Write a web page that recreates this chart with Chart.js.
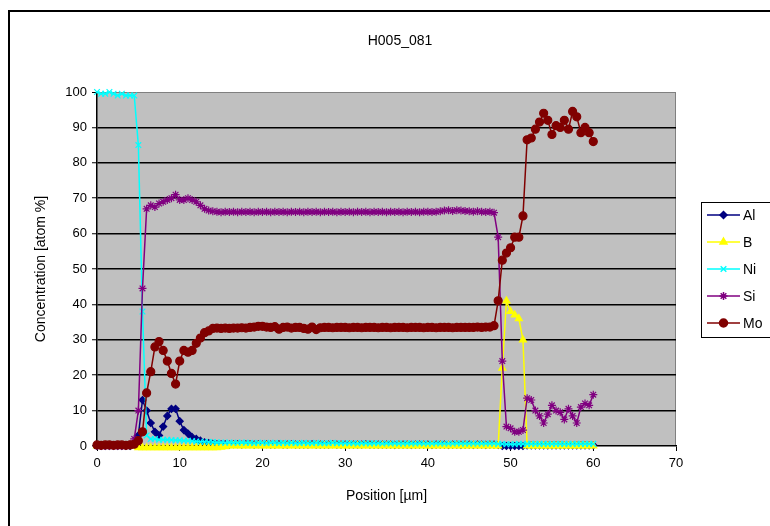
<!DOCTYPE html>
<html>
<head>
<meta charset="utf-8">
<title>H005_081</title>
<script src="https://cdn.jsdelivr.net/npm/chart.js@4.4.1/dist/chart.umd.min.js"></script>
<style>
  html, body { margin: 0; padding: 0; background: #fff; }
  canvas { display: block; }
</style>
</head>
<body>
<canvas id="profile" width="770" height="526"></canvas>
<script>
// line scan positions [µm]
const positions = [
  0, 0.5, 1, 1.5, 2, 2.5, 3, 3.5, 4, 4.5,
  5, 5.5, 6, 6.5, 7, 7.5, 8, 8.5, 9, 9.5,
  10, 10.5, 11, 11.5, 12, 12.5, 13, 13.5, 14, 14.5,
  15, 15.5, 16, 16.5, 17, 17.5, 18, 18.5, 19, 19.5,
  20, 20.5, 21, 21.5, 22, 22.5, 23, 23.5, 24, 24.5,
  25, 25.5, 26, 26.5, 27, 27.5, 28, 28.5, 29, 29.5,
  30, 30.5, 31, 31.5, 32, 32.5, 33, 33.5, 34, 34.5,
  35, 35.5, 36, 36.5, 37, 37.5, 38, 38.5, 39, 39.5,
  40, 40.5, 41, 41.5, 42, 42.5, 43, 43.5, 44, 44.5,
  45, 45.5, 46, 46.5, 47, 47.5, 48, 48.5, 49, 49.5,
  50, 50.5, 51, 51.5, 52, 52.5, 53, 53.5, 54, 54.5,
  55, 55.5, 56, 56.5, 57, 57.5, 58, 58.5, 59, 59.5,
  60
];

const al = [
  0, 0, 0, 0, 0, 0, 0, 0, 0, 0.5,
  3, 13, 10, 6.5, 4, 3, 5.5, 8.5, 10.5, 10.5,
  7, 4.5, 3.5, 2.5, 2, 1.5, 1, 0.8, 0.6, 0.5,
  0.5, 0.5, 0.4, 0.5, 0.5, 0.4, 0.5, 0.5, 0.4, 0.5,
  0.4, 0.5, 0.4, 0.4, 0.5, 0.4, 0.4, 0.5, 0.4, 0.4,
  0.4, 0.4, 0.5, 0.4, 0.4, 0.4, 0.4, 0.5, 0.4, 0.4,
  0.4, 0.4, 0.4, 0.4, 0.4, 0.5, 0.4, 0.4, 0.4, 0.4,
  0.4, 0.4, 0.3, 0.4, 0.4, 0.4, 0.3, 0.4, 0.4, 0.4,
  0.4, 0.3, 0.4, 0.4, 0.4, 0.3, 0.4, 0.4, 0.3, 0.4,
  0.4, 0.3, 0.4, 0.4, 0.3, 0.4, 0.4, 0.3, 0, 0,
  0, 0, 0, 0, 0.2, 0.2, 0.2, 0.2, 0.2, 0.2,
  0.2, 0.2, 0.2, 0.2, 0.2, 0.2, 0.2, 0.2, 0.2, 0.2,
  0.2
];

const b = [
  0, 0, 0, 0, 0, 0, 0, 0, 0, 0,
  -0.5, -0.5, -0.5, -0.5, -0.5, -0.5, -0.5, -0.5, -0.5, -0.5,
  -0.5, -0.5, -0.5, -0.5, -0.5, -0.5, -0.5, -0.5, -0.5, -0.5,
  -0.3, -0.2, 0, 0.1, 0, 0.1, 0, 0.1, 0, 0.1,
  0, 0.1, 0, 0.1, 0, 0.1, 0, 0.1, 0, 0.1,
  0, 0.1, 0, 0.1, 0, 0.1, 0, 0.1, 0, 0.1,
  0, 0.1, 0, 0.1, 0, 0.1, 0, 0.1, 0, 0.1,
  0, 0.1, 0, 0.1, 0, 0.1, 0, 0.1, 0, 0.1,
  0, 0.1, 0, 0.1, 0, 0.1, 0, 0.1, 0, 0.1,
  0, 0.1, 0, 0.1, 0, 0.1, 0, 0, 22, 41,
  38, 37, 36, 30, 0, 0, 0, 0, 0, 0,
  0, 0, 0, 0, 0, 0, 0, 0, 0, 0,
  0
];

const ni = [
  100, 99.5, 99.5, 100, 99.5, 99, 99.5, 99, 99, 99,
  85, 38, 3, 2, 2, 1.8, 1.8, 1.8, 1.7, 1.6,
  1.6, 1.5, 1.5, 1.4, 1.3, 1.2, 1.2, 1.1, 1.1, 1,
  1, 0.9, 1, 0.9, 0.9, 1, 0.9, 0.9, 0.8, 0.9,
  0.9, 0.8, 0.9, 0.9, 0.8, 0.9, 0.8, 0.9, 0.8, 0.8,
  0.9, 0.8, 0.8, 0.9, 0.8, 0.8, 0.8, 0.9, 0.8, 0.8,
  0.8, 0.8, 0.8, 0.7, 0.8, 0.8, 0.7, 0.8, 0.8, 0.7,
  0.8, 0.7, 0.8, 0.7, 0.7, 0.8, 0.7, 0.7, 0.8, 0.7,
  0.7, 0.7, 0.8, 0.7, 0.7, 0.7, 0.7, 0.8, 0.7, 0.7,
  0.7, 0.7, 0.7, 0.7, 0.7, 0.7, 0.7, 0.6, 0.6, 0.5,
  0.5, 0.5, 0.6, 0.6, 0.6, 0.6, 0.6, 0.6, 0.6, 0.6,
  0.6, 0.6, 0.6, 0.6, 0.6, 0.6, 0.6, 0.6, 0.6, 0.6,
  0.6
];

const si = [
  0, 0, 0, 0, 0, 0, 0, 0, 0.5, 2,
  10, 44.5, 67, 68, 67.5, 68.5, 69, 69.5, 70, 71,
  69.5, 69.5, 70, 69.5, 69, 68, 67, 66.5, 66.3, 66.2,
  66, 66.2, 66.1, 66.2, 66, 66.2, 66.1, 66.2, 66, 66.2,
  66.1, 66.2, 66, 66.2, 66.1, 66.2, 66, 66.2, 66.1, 66.2,
  66, 66.2, 66.1, 66.2, 66, 66.2, 66.1, 66.2, 66, 66.2,
  66.1, 66.2, 66, 66.2, 66.1, 66.2, 66, 66.2, 66.1, 66.2,
  66, 66.2, 66.1, 66.2, 66, 66.2, 66.1, 66.2, 66, 66.2,
  66.2, 66.1, 66.2, 66.3, 66.5, 66.6, 66.4, 66.6, 66.5, 66.4,
  66.3, 66.2, 66.3, 66.2, 66.1, 66.2, 65.9, 59, 24, 5.5,
  5, 4, 4, 4.5, 13.5, 13, 10, 8.5, 6.5, 9,
  11.5, 10, 9.5, 7.5, 10.5, 8.5, 6.5, 11, 12, 11.5,
  14.5
];

const mo = [
  0.3, 0.2, 0.3, 0.3, 0.2, 0.3, 0.3, 0.2, 0.3, 0.5,
  1.5, 4, 15, 21, 28, 29.5, 27, 24, 20.5, 17.5,
  24, 27, 26.5, 27, 29, 30.5, 32, 32.5, 33.2, 33.3,
  33.2, 33.3, 33.2, 33.3, 33.3, 33.4, 33.3, 33.5, 33.6, 33.8,
  33.8, 33.6, 33.5, 33.7, 33, 33.5, 33.6, 33.3, 33.5, 33.5,
  33.2, 33, 33.6, 32.9, 33.4, 33.5, 33.5, 33.4, 33.5, 33.5,
  33.5, 33.4, 33.5, 33.5, 33.4, 33.5, 33.5, 33.5, 33.4, 33.5,
  33.5, 33.4, 33.5, 33.5, 33.5, 33.4, 33.5, 33.5, 33.5, 33.4,
  33.5, 33.5, 33.4, 33.5, 33.5, 33.5, 33.4, 33.5, 33.5, 33.5,
  33.5, 33.5, 33.6, 33.5, 33.6, 33.6, 34, 41, 52.5, 54.5,
  56, 59, 59, 65, 86.5, 87, 89.5, 91.5, 94, 92,
  88, 90.5, 90, 92, 89.5, 94.5, 93, 88.5, 90, 88.5,
  86
];

const xTicks = [0, 10, 20, 30, 40, 50, 60, 70];
const yTicks = [0, 10, 20, 30, 40, 50, 60, 70, 80, 90, 100];

const fontFamily = "'Liberation Sans', Arial, sans-serif";
const tickFont = {family: fontFamily, size: 13};
const labelFont = {family: fontFamily, size: 14};

const series = [
  {label: "Al", values: al, color: "#000080", style: "rectRot", radius: 3.5, order: 5},
  {label: "B", values: b, color: "#ffff00", style: "triangle", radius: 4, order: 4},
  {label: "Ni", values: ni, color: "#00ffff", style: "crossRot", radius: 4, order: 3},
  {label: "Si", values: si, color: "#800080", style: "star", radius: 4, order: 2},
  {label: "Mo", values: mo, color: "#800000", style: "circle", radius: 4, order: 1}
];

// white page, outer chart frame, grey plot area and the title
const frame = {
  id: "frame",
  beforeDraw(chart) {
    const {ctx, chartArea: a} = chart;
    ctx.save();
    ctx.fillStyle = "#fff";
    ctx.fillRect(0, 0, chart.width, chart.height);
    ctx.strokeStyle = "#000";
    ctx.lineWidth = 2;
    ctx.strokeRect(9, 11, 820, 600);
    ctx.fillStyle = "#c0c0c0";
    ctx.fillRect(a.left, a.top, a.right - a.left, a.bottom - a.top);
    ctx.strokeStyle = "#808080";
    ctx.lineWidth = 1;
    ctx.beginPath();
    ctx.moveTo(a.left, a.top + 0.5);
    ctx.lineTo(a.right - 0.5, a.top + 0.5);
    ctx.lineTo(a.right - 0.5, a.bottom);
    ctx.stroke();
    ctx.fillStyle = "#000";
    ctx.font = "14px " + fontFamily;
    ctx.textAlign = "center";
    ctx.textBaseline = "middle";
    ctx.fillText("H005_081", 400, 41);
    ctx.restore();
  }
};

const legendBox = {
  id: "legendBox",
  afterDraw(chart) {
    const ctx = chart.ctx;
    ctx.save();
    ctx.fillStyle = "#fff";
    ctx.fillRect(701, 202, 90, 135);
    ctx.strokeStyle = "#000";
    ctx.lineWidth = 1;
    ctx.strokeRect(701.5, 202.5, 90, 135);
    ctx.font = "14px " + fontFamily;
    ctx.textBaseline = "middle";
    series.forEach((s, i) => {
      const y = 215 + i * 27;
      ctx.strokeStyle = s.color;
      ctx.fillStyle = s.color;
      ctx.lineWidth = 1.5;
      ctx.beginPath();
      ctx.moveTo(707, y);
      ctx.lineTo(740, y);
      ctx.stroke();
      Chart.helpers.drawPoint(ctx, {pointStyle: s.style, radius: s.radius, borderWidth: 1.5, rotation: 0}, 723.5, y);
      ctx.fillStyle = "#000";
      ctx.fillText(s.label, 743, y + 1);
    });
    ctx.restore();
  }
};

new Chart(document.getElementById("profile"), {
  type: "scatter",
  data: {
    datasets: series.map(s => ({
      label: s.label,
      data: positions.map((x, i) => ({x, y: s.values[i]})),
      showLine: true,
      borderColor: s.color,
      backgroundColor: s.color,
      borderWidth: 1.5,
      pointStyle: s.style,
      pointRadius: s.radius,
      pointBorderWidth: 1.2,
      pointBackgroundColor: s.color,
      pointBorderColor: s.color,
      order: s.order,
      clip: false
    }))
  },
  options: {
    responsive: false,
    animation: false,
    events: [],
    layout: {padding: {left: 0, right: 94, top: 92, bottom: 0}},
    plugins: {
      legend: {display: false},
      tooltip: {enabled: false},
      title: {display: false}
    },
    scales: {
      x: {
        type: "linear",
        min: 0,
        max: 70,
        afterFit: s => { s.height = 80; },
        afterBuildTicks: s => { s.ticks = xTicks.map(v => ({value: v})); },
        ticks: {color: "#000", font: tickFont, padding: 5, maxRotation: 0},
        grid: {drawOnChartArea: false, drawTicks: true, tickLength: 5, tickColor: "#000", tickWidth: 1},
        border: {color: "#000", width: 1.5},
        title: {display: true, text: "Position [µm]", color: "#000", font: labelFont, padding: {top: 0, bottom: 21.6}}
      },
      y: {
        min: 0,
        max: 100,
        afterFit: s => { s.width = 97; },
        afterBuildTicks: s => { s.ticks = yTicks.map(v => ({value: v})); },
        ticks: {color: "#000", font: tickFont, padding: 5},
        grid: {
          color: c => c.tick.value === 100 ? "#808080" : (c.tick.value === 0 ? "rgba(0,0,0,0)" : "#000"),
          lineWidth: c => c.tick.value === 100 ? 1 : 1.5,
          drawTicks: true,
          tickLength: 5,
          tickColor: "#000",
          tickWidth: 1
        },
        border: {color: "#000", width: 1.5},
        title: {display: true, text: "Concentration [atom %]", color: "#000", font: labelFont, padding: {top: 32.6, bottom: 0}}
      }
    }
  },
  plugins: [frame, legendBox]
});
</script>
</body>
</html>
